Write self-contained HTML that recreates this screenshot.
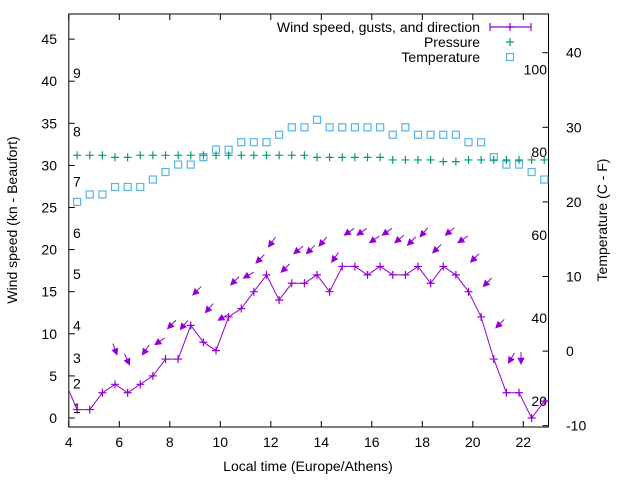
<!DOCTYPE html>
<html><head><meta charset="utf-8"><style>
body{margin:0;background:#fff}
svg{display:block;font-family:"Liberation Sans",sans-serif;font-size:14px}
</style></head><body>
<svg id="chart" width="640" height="480" viewBox="0 0 640 480">
<rect x="0" y="0" width="640" height="480" fill="#fff"/>
<g id="axes"></g><g id="marks"></g><g id="legend"></g>
</svg>
<script>
const hours=[3.83,4.33,4.83,5.33,5.83,6.33,6.83,7.33,7.83,8.33,8.83,9.33,9.83,10.33,10.83,11.33,11.83,12.33,12.83,13.33,13.83,14.33,14.83,15.33,15.83,16.33,16.83,17.33,17.83,18.33,18.83,19.33,19.83,20.33,20.83,21.33,21.83,22.33,22.83];
const windSpeed=[4.5,1,1,3,4,3,4,5,7,7,11,9,8,12,13,15,17,14,16,16,17,15,18,18,17,18,17,17,18,16,18,17,15,12,7,3,3,0,2];
const gusts=[null,null,null,null,7.5,6.3,7.5,8.7,10.6,10.5,14.6,12.5,11.6,15.8,16.6,18.4,20.3,17.3,19.5,19.5,20.4,18.5,21.7,21.7,20.8,21.7,20.8,20.5,21.5,19.6,21.7,20.8,18.5,15.6,10.7,6.5,6.4,null,null];
const windDir=[null,null,null,null,340,335,35,55,45,40,45,40,60,45,60,45,35,45,50,45,40,35,55,55,55,55,50,45,40,45,50,55,45,45,45,30,0,null,null];
const pressure=[null,31.2,31.2,31.2,30.95,30.95,31.2,31.2,31.2,31.2,31.2,31.2,31.2,31.2,31.2,31.2,31.2,31.2,31.2,31.2,30.95,30.95,30.95,30.95,30.95,30.95,30.65,30.65,30.65,30.65,30.45,30.45,30.65,30.65,30.65,30.65,30.65,30.65,30.65];
const tempC=[null,20,21,21,22,22,22,23,24,25,25,26,27,27,28,28,28,29,30,30,31,30,30,30,30,30,29,30,29,29,29,29,28,28,26,25,25,24,23];
const xTicks=[4,6,8,10,12,14,16,18,20,22];
const yTicks=[0,5,10,15,20,25,30,35,40,45];
const y2Ticks=[-10,0,10,20,30,40];
const fTicks=[20,40,60,80,100];
const beaufortLabels=[1,2,3,4,5,6,7,8,9];
const beaufortKn=[1.2,4.1,7.1,11,17.1,22,28.1,34,41];

const L=68.8,R=548.5,T=14,B=427;
const X=h=>L+(h-4)*25.25;
const Y=v=>418-v*8.42;
const Y2=c=>127.3+(30-c)*7.46;
const NS='http://www.w3.org/2000/svg';
function mk(tag,attrs,parent,text){const e=document.createElementNS(NS,tag);for(const k in attrs)e.setAttribute(k,attrs[k]);if(text!==undefined)e.textContent=text;parent.appendChild(e);return e;}
const ax=document.getElementById('axes'),mg=document.getElementById('marks'),lg=document.getElementById('legend');
const VI='#9400d3',GR='#009e73',BL='#56b4e9';

let fr=mk('rect',{x:L,y:T,width:R-L,height:B-T,fill:'none',stroke:'#000','stroke-width':1},ax);


xTicks.forEach(h=>{
  mk('line',{x1:X(h),x2:X(h),y1:B,y2:B-6,stroke:'#000'},ax);
  mk('line',{x1:X(h),x2:X(h),y1:T,y2:T+6,stroke:'#000'},ax);
  let t=mk('text',{x:X(h),y:B+20,'text-anchor':'middle'},ax,String(h));
  
  
});
yTicks.forEach(v=>{
  mk('line',{x1:L,x2:L+6,y1:Y(v),y2:Y(v),stroke:'#000'},ax);
  let t=mk('text',{x:57,y:Y(v)+5,'text-anchor':'end'},ax,String(v));
  
  
});
y2Ticks.forEach(c=>{
  mk('line',{x1:R,x2:R-6,y1:Y2(c),y2:Y2(c),stroke:'#000'},ax);
  let t=mk('text',{x:566,y:Y2(c)+5,'text-anchor':'start'},ax,String(c));
  
  
});
fTicks.forEach(f=>{
  let t=mk('text',{x:547,y:Y2((f-32)*5/9)+5,'text-anchor':'end'},ax,String(f));
  
  
});
beaufortLabels.forEach((b,i)=>{
  let t=mk('text',{x:73,y:Y(beaufortKn[i])+5},ax,String(b));
  
  
});
let xl=mk('text',{x:308,y:471,'text-anchor':'middle'},ax,'Local time (Europe/Athens)');


let yl=mk('text',{x:0,y:0,'text-anchor':'middle',transform:'translate(17,220) rotate(-90)'},ax,'Wind speed (kn - Beaufort)');


let y2l=mk('text',{x:0,y:0,'text-anchor':'middle',transform:'translate(607,220) rotate(-90)'},ax,'Temperature (C - F)');



const defs=mk('defs',{},mg);
const clip=mk('clipPath',{id:'pc'},defs);
mk('rect',{x:L,y:T,width:R-L,height:B-T},clip);
const cg=mk('g',{'clip-path':'url(#pc)'},mg);

function plus(x,y,c,g,n){let p=mk('path',{d:`M${x-4} ${y}H${x+4}M${x} ${y-4}V${y+4}`,stroke:c,'stroke-width':1.2,fill:'none'},g);return p;}
function sq(x,y,c,g,n){let p=mk('rect',{x:x-3.5,y:y-3.5,width:7,height:7,stroke:c,'stroke-width':1.2,fill:'none'},g);return p;}

// temperature
tempC.forEach((c,i)=>{if(c!==null)sq(X(hours[i]),Y2(c),BL,cg,'temperature-point');});
// pressure
pressure.forEach((p,i)=>{if(p!==null)plus(X(hours[i]),Y(p),GR,cg,'pressure-point');});
// wind line
let pts=hours.map((h,i)=>X(h).toFixed(1)+','+Y(windSpeed[i]).toFixed(1)).join(' ');
let wl=mk('polyline',{points:pts,fill:'none',stroke:VI,'stroke-width':1},cg);


windSpeed.forEach((v,i)=>plus(X(hours[i]),Y(v),VI,cg,'wind-speed-point'));
// gust arrows
gusts.forEach((g,i)=>{
  if(g===null)return;
  const d=(windDir[i]+180)*Math.PI/180;
  const ux=Math.sin(d),uy=-Math.cos(d);
  const hx=X(hours[i])+2,hy=Y(g);
  const tx=hx-ux*12,ty=hy-uy*12;
  const bx=hx-ux*6,by=hy-uy*6,px=-uy*3,py=ux*3;
  let a=mk('g',{},cg);
  
  
  mk('line',{x1:tx,y1:ty,x2:bx,y2:by,stroke:VI,'stroke-width':1},a);
  mk('polygon',{points:`${hx},${hy} ${bx+px},${by+py} ${bx-px},${by-py}`,fill:VI,stroke:VI,'stroke-width':0.8},a);
});

// legend
const lx=480;
[['Wind speed, gusts, and direction',27],['Pressure',42],['Temperature',57]].forEach(([s,y],i)=>{
  let t=mk('text',{x:lx,y:y+5,'text-anchor':'end'},lg,s);
  
  
});
let ln=mk('path',{d:'M490 27H531M490 23V31M531 23V31',stroke:VI,'stroke-width':1.2,fill:'none'},lg);


plus(510,27,VI,lg,'legend-wind-marker');
plus(510,42,GR,lg,'legend-pressure-marker');
sq(510,57,BL,lg,'legend-temperature-marker');
</script>
</body></html>
